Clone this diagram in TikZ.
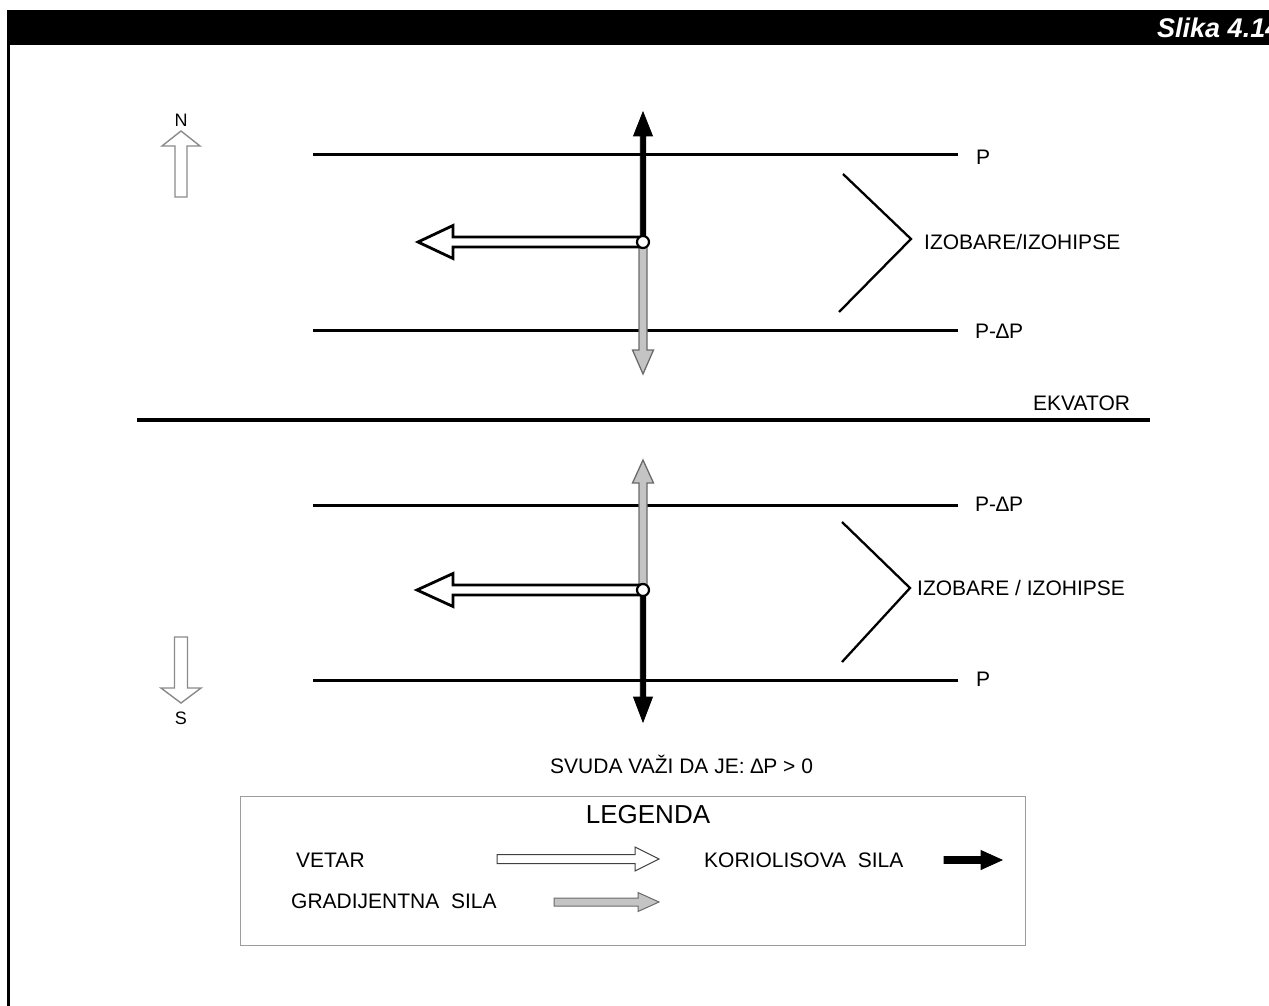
\documentclass[tikz,border=0pt]{standalone}
\usepackage{fontspec}
\setmainfont{Liberation Sans}
\usetikzlibrary{positioning}
\definecolor{cGrad}{HTML}{C4C4C4}
\definecolor{cGradEdge}{HTML}{6A6A6A}
\definecolor{cCompass}{HTML}{8A8A8A}
\definecolor{cFrame}{HTML}{9C9C9C}

\begin{document}
\begin{tikzpicture}[
  x=1pt, y=-1pt,
  font=\fontsize{21}{25}\selectfont,
  isobar/.style={line width=3pt},
  equator/.style={line width=3.6pt},
  brace/.style={line width=2.3pt},
  lbl/.style={anchor=west, inner sep=0pt, text height=15pt, text depth=0pt},
  wind/.style={draw=black, fill=white, line width=2.8pt},
  coriolis/.style={draw=black, fill=black, line width=0.8pt},
  gradient/.style={draw=cGradEdge, fill=cGrad, line width=1.3pt},
  compass/.style={draw=cCompass, fill=white, line width=1.4pt},
  hub/.style={circle, draw=black, fill=white, line width=2.2pt, minimum size=12pt, inner sep=0pt},
  pics/fatarrow/.style n args={4}{code={
    % #1 length, #2 shaft width, #3 head width, #4 head length
    \path[pic actions] (0,-#2/2) -- (#1-#4,-#2/2) -- (#1-#4,-#3/2) -- (#1,0)
      -- (#1-#4,#3/2) -- (#1-#4,#2/2) -- (0,#2/2) -- cycle;
  }},
]
\useasboundingbox (0,0) rectangle (1269,1006);

% -- header bar and frame ---------------------------------------------------
\fill[black] (7,10) rectangle (1280,45);
\fill[black] (7,45) rectangle (10,1010);
\node[anchor=west, inner sep=0pt, text=white, font=\fontsize{27}{32}\selectfont\bfseries\itshape] (fig) at (1157,28) {Slika 4.14};

% -- compass ----------------------------------------------------------------
\coordinate (nTail) at (181,197);
\coordinate (sTail) at (181,637);
\pic[compass, rotate=90] at (nTail) {fatarrow={66}{12}{38}{15}};
\pic[compass, rotate=-90] at (sTail) {fatarrow={66}{13}{40}{15}};
\node[inner sep=0pt, font=\fontsize{18}{21}\selectfont] (north) at (181,120) {N};
\node[inner sep=0pt, font=\fontsize{18}{21}\selectfont] (south) at (181,718) {S};

% -- northern hemisphere ----------------------------------------------------
\draw[isobar] (313,155) -- (958,155);
\draw[isobar] (313,330) -- (958,330);
\node[lbl] (pN) at (976,157) {P};
\node[lbl] (dpN) at (975,331) {P-∆P};
\draw[brace] (843,174) -- (911,239) -- (839,312);
\node[lbl] (isoN) at (924,242) {IZOBARE/IZOHIPSE};

\coordinate (hubN) at (643,242);
\pic[coriolis, rotate=90] at (hubN) {fatarrow={130}{5.5}{19}{24}};
\pic[gradient, rotate=-90] at (hubN) {fatarrow={132}{8}{21}{24}};
\pic[wind, rotate=180] at (hubN) {fatarrow={225}{10}{33}{35}};
\node[hub] (cN) at (hubN) {};

% -- equator ----------------------------------------------------------------
\draw[equator] (137,420) -- (1150,420);
\node[lbl] (eq) at (1033,403) {EKVATOR};

% -- southern hemisphere ----------------------------------------------------
\draw[isobar] (313,505) -- (958,505);
\draw[isobar] (313,680) -- (958,680);
\node[lbl] (dpS) at (975,504) {P-∆P};
\node[lbl] (pS) at (976,679) {P};
\draw[brace] (842,522) -- (910,588) -- (842,662);
\node[lbl] (isoS) at (917,588) {IZOBARE / IZOHIPSE};

\coordinate (hubS) at (643,590);
\pic[gradient, rotate=90] at (hubS) {fatarrow={130}{8}{21}{23}};
\pic[coriolis, rotate=-90] at (hubS) {fatarrow={132}{5.5}{19}{25}};
\pic[wind, rotate=180] at (hubS) {fatarrow={226}{10}{33}{36}};
\node[hub] (cS) at (hubS) {};

\node[lbl] (note) at (550,766) {SVUDA VAŽI DA JE: ∆P > 0};

% -- legend -----------------------------------------------------------------
\draw[cFrame, line width=1pt] (240,796) rectangle (1025,945);
\node[inner sep=0pt, font=\fontsize{26}{30}\selectfont] (leg) at (648,815) {LEGENDA};
\node[lbl] (vetar) at (296,860) {VETAR};
\node[lbl] (kor) at (704,860) {KORIOLISOVA~~SILA};
\node[lbl] (grad) at (291,901) {GRADIJENTNA~~SILA};
\pic[wind, line width=1pt, draw=black!75] at (497,859) {fatarrow={162}{9}{24}{24}};
\pic[coriolis] at (944,860) {fatarrow={58}{7}{19}{21}};
\pic[gradient, line width=1pt] at (554,902) {fatarrow={105}{8}{19}{21}};
\end{tikzpicture}
\end{document}
